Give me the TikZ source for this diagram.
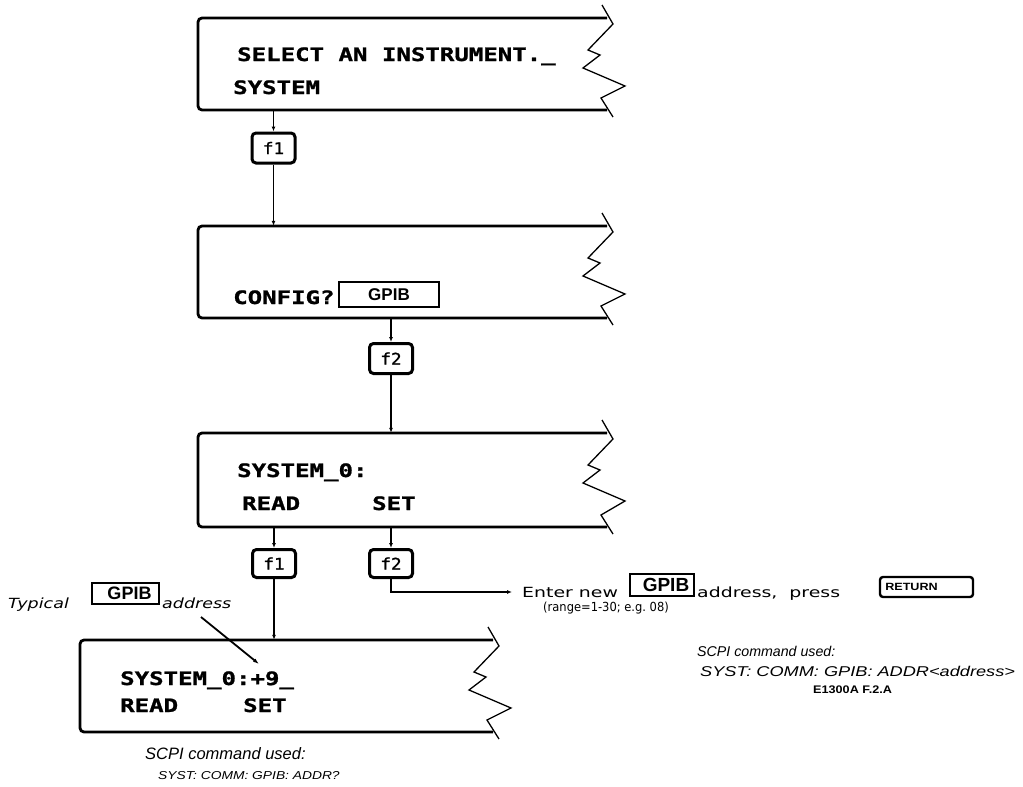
\documentclass[tikz,border=0pt]{standalone}
\usepackage{fontspec}
\usetikzlibrary{arrows.meta}
\newfontfamily\lcdfont[FakeStretch=1.3,FakeBold=1.2]{DejaVu Sans Mono Bold}
\newfontfamily\keyfont[FakeStretch=1.1,FakeBold=1.2]{DejaVu Sans Mono}
\newfontfamily\strokefont[FakeStretch=1.35]{DejaVu Sans}
\newfontfamily\rangefont[FakeStretch=0.92]{DejaVu Sans}
\newfontfamily\itfont[FakeStretch=1.25]{DejaVu Sans Oblique}
\newfontfamily\scpifont{Liberation Sans Italic}
\newfontfamily\scpicaps[FakeStretch=1.2]{Liberation Sans Italic}
\newfontfamily\scpicapsw[FakeStretch=1.28]{Liberation Sans Italic}
\newfontfamily\arialb{Liberation Sans Bold}
\newfontfamily\figfont[FakeStretch=1.15]{Liberation Sans Bold}
\newfontfamily\retfont[FakeStretch=1.2]{Liberation Sans Bold}
\newcommand\lcdbox[5]{% name, left, top, right, bottom
  \draw[boxline] (#4,#3) -- (#2,#3) -- (#2,#5) -- (#4,#5);
  \draw[zig] (#4-5,#3-13) -- (#4+6,#3+6) -- (#4-19,#3+32) -- (#4-7,#3+37)
     -- (#4-24,#3+50) -- (#4+18,#3+68) -- (#4-6,#5-12) -- (#4+6,#5+7);
  \node (#1) [inner sep=0pt, minimum width={(#4-#2)*1pt}, minimum height={(#5-#3)*1pt}]
     at ({(#2+#4)/2},{(#3+#5)/2}) {};
}
\begin{document}
\begin{tikzpicture}[x=1pt,y=-1pt,
  boxline/.style={line width=2.8pt, rounded corners=4pt},
  zig/.style={line width=1.3pt, line join=miter},
  conn/.style={line width=1.8pt},
  arr/.style={conn,-{Latex[length=5pt,width=4pt]}},
  keybox/.style={draw, line width=3pt, rounded corners=4pt, minimum width=43pt,
     minimum height=30pt, inner sep=0pt, font=\keyfont\fontsize{16}{16}\selectfont},
  gpib/.style={draw, line width=2pt, inner sep=0pt},
  lcd/.style={anchor=base west, inner sep=0pt, font=\lcdfont\fontsize{18.5}{18.5}\selectfont},
  lbl/.style={anchor=base west, inner sep=0pt}]
\useasboundingbox[fill=white] (0,0) rectangle (1023,787);

% boxes
\lcdbox{b1}{198}{18}{607}{110}
\lcdbox{b2}{198}{226}{607}{318}
\lcdbox{b3}{198}{433}{607}{527}
\lcdbox{b4}{80}{640}{493}{732}

% box texts
\node[lcd] (t1a) at (237,61) {SELECT AN INSTRUMENT.\_};
\node[lcd] (t1b) at (233,94) {SYSTEM};
\node[lcd] (t2a) at (233,304) {CONFIG?};
\node[gpib, minimum width=100pt, minimum height=25pt,
      font=\arialb\fontsize{17}{17}\selectfont] (g2) at (389,294.5) {GPIB};
\node[lcd] (t3a) at (237,477) {SYSTEM\_0:};
\node[lcd] (t3b) at (242,510) {READ};
\node[lcd] (t3c) at (372,510) {SET};
\node[lcd] (t4a) at (120,685) {SYSTEM\_0:+9\_};
\node[lcd] (t4b) at (120,712) {READ};
\node[lcd] (t4c) at (243,712) {SET};

% keys
\node[keybox] (k1) at (273.5,148) {f1};
\node[keybox] (k2) at (391,358.5) {f2};
\node[keybox, minimum height=28pt] (k3) at (274,563.5) {f1};
\node[keybox, minimum height=28pt] (k4) at (391,563.5) {f2};

% connectors
\draw[arr] (b1.south -| k1) -- (k1.north);
\draw[arr] (k1.south) -- (k1.south |- b2.north);
\draw[arr] (b2.south -| k2) -- (k2.north);
\draw[arr] (k2.south) -- (k2.south |- b3.north);
\draw[arr] (b3.south -| k3) -- (k3.north);
\draw[arr] (k3.south) -- (k3.south |- b4.north);
\draw[arr] (b3.south -| k4) -- (k4.north);
\coordinate (enter) at (512,592);
\draw[arr] (k4.south) |- (enter);

% enter new address text
\node[lbl, font=\strokefont\fontsize{14}{14}\selectfont] (en) at (522,597) {Enter new};
\node[gpib, minimum width=64pt, minimum height=22pt,
      font=\arialb\fontsize{19}{19}\selectfont] (g3) at (662,585) {\hspace*{8pt}GPIB};
\node[lbl, font=\strokefont\fontsize{14}{14}\selectfont] (ap) at (697,597) {address,\ \ press};
\node[draw, line width=2.4pt, rounded corners=3pt, minimum width=93pt, minimum height=20pt,
      inner sep=0pt, font=\retfont\fontsize{10.5}{10.5}\selectfont] (ret) at (926.5,587)
      {RETURN\hspace*{30pt}};
\node[lbl, font=\rangefont\fontsize{12.5}{12.5}\selectfont] (rng) at (543,611) {(range=1-30;\ e.g.\ 08)};

% typical address
\node[lbl, font=\itfont\fontsize{14}{14}\selectfont] (typ) at (8,608) {Typical};
\node[gpib, minimum width=67pt, minimum height=21pt,
      font=\arialb\fontsize{18}{18}\selectfont] (g1) at (125.5,593.5) {\hspace*{8pt}GPIB};
\node[lbl, font=\itfont\fontsize{14}{14}\selectfont] (tad) at (162,608) {address};
\coordinate (typtail) at (201,617);
\coordinate (plus9) at (259,664);
\draw[conn, -{Latex[length=6pt,width=4pt]}] (typtail) -- (plus9);

% SCPI notes
\node[lbl, font=\scpifont\fontsize{16.5}{16.5}\selectfont] (s1a) at (145,759) {SCPI command used:};
\node[lbl, font=\scpicaps\fontsize{11.5}{11.5}\selectfont] (s1b) at (158,779) {SYST:\ COMM:\ GPIB:\ ADDR?};
\node[lbl, font=\scpifont\fontsize{14.2}{14.2}\selectfont] (s2a) at (697,656) {SCPI command used:};
\node[lbl, font=\scpicapsw\fontsize{14.2}{14.2}\selectfont] (s2b) at (700,676) {SYST:\ COMM:\ GPIB:\ ADDR<address>};
\node[lbl, font=\figfont\fontsize{11}{11}\selectfont] (fig) at (813,693) {E1300A F.2.A};
\end{tikzpicture}
\end{document}
